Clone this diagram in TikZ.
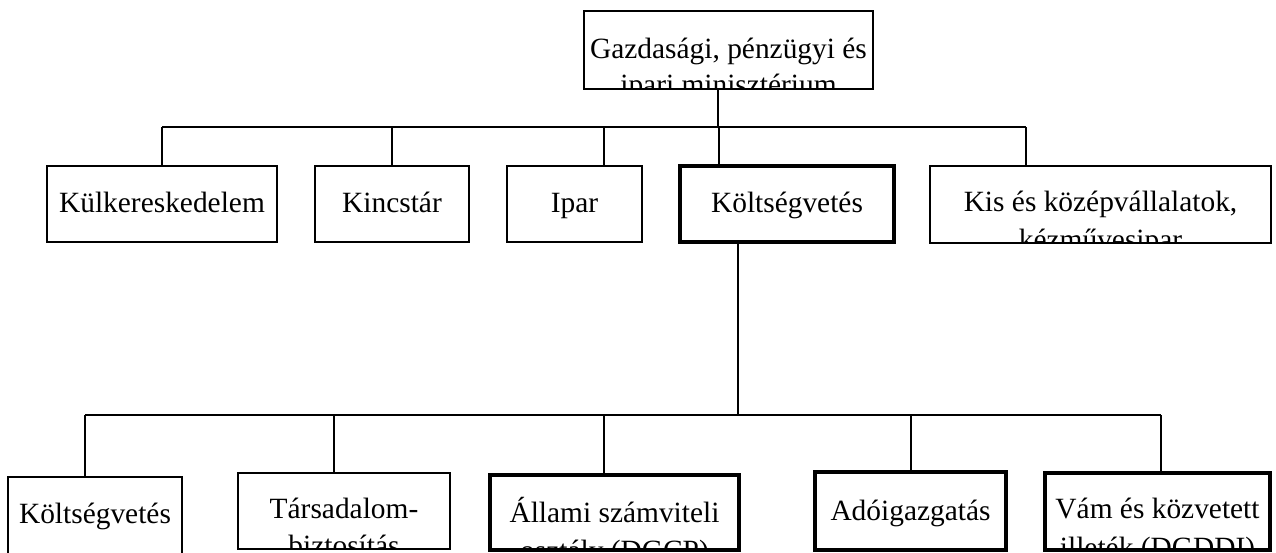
\documentclass[tikz,border=0pt]{standalone}
\usepackage{fontspec}
\setmainfont{Liberation Serif}
\usetikzlibrary{calc}
\begin{document}
\begin{tikzpicture}[x=1pt,y=-1pt,
  box/.style={draw, line width=1.3pt, rectangle, inner sep=0pt, outer sep=0pt, anchor=north west},
  heavy/.style={box, line width=4pt},
  conn/.style={line width=1.4pt},
  lbl/.style={anchor=base, inner sep=0pt, font=\fontsize{29.4}{36}\selectfont}]
\useasboundingbox (0,0) rectangle (1276,552);

% ministry
\node[box, minimum width=289pt, minimum height=78pt] (min) at (584,11) {};
\begin{scope}
  \clip (min.north west) rectangle (min.south east);
  \node[lbl] (minA) at ($(min.north)+(0,47)$) {Gazdasági, pénzügyi és};
  \node[lbl] (minB) at ($(min.north)+(0,83)$) {ipari minisztérium};
\end{scope}

% first level
\node[box, minimum width=230pt, minimum height=76pt] (kulk) at (47,166) {};
\node[lbl] (kulkA) at ($(kulk.north)+(0,46)$) {Külkereskedelem};

\node[box, minimum width=154pt, minimum height=76pt] (kincs) at (315,166) {};
\node[lbl] (kincsA) at ($(kincs.north)+(0,46)$) {Kincstár};

\node[box, minimum width=135pt, minimum height=76pt] (ipar) at (507,166) {};
\node[lbl] (iparA) at ($(ipar.north)+(0,46)$) {Ipar};

\node[heavy, minimum width=214pt, minimum height=76pt] (kolt) at (680,166) {};
\node[lbl] (koltA) at ($(kolt.north)+(0,46)$) {Költségvetés};

\node[box, minimum width=341pt, minimum height=77pt] (kis) at (930,166) {};
\begin{scope}
  \clip (kis.north west) rectangle (kis.south east);
  \node[lbl] (kisA) at ($(kis.north)+(0,45)$) {Kis és középvállalatok,};
  \node[lbl] (kisB) at ($(kis.north)+(0,83)$) {kézművesipar};
\end{scope}

% second level
\node[box, minimum width=174pt, minimum height=85pt] (bud) at (8,477) {};
\node[lbl] (budA) at ($(bud.north)+(0,46)$) {Költségvetés};

\node[box, minimum width=212pt, minimum height=76pt] (tars) at (238,473) {};
\begin{scope}
  \clip (tars.north west) rectangle (tars.south east);
  \node[lbl] (tarsA) at ($(tars.north)+(0,45)$) {Társadalom-};
  \node[lbl] (tarsB) at ($(tars.north)+(0,82)$) {biztosítás};
\end{scope}

\node[heavy, minimum width=249pt, minimum height=75pt] (all) at (490,475) {};
\begin{scope}
  \clip (all.north west) rectangle (all.south east);
  \node[lbl] (allA) at ($(all.north)+(0,47)$) {Állami számviteli};
  \node[lbl] (allB) at ($(all.north)+(0,85)$) {osztály (DGCP)};
\end{scope}

\node[heavy, minimum width=191pt, minimum height=78pt] (ado) at (815,472) {};
\node[lbl] (adoA) at ($(ado.north)+(0,48)$) {Adóigazgatás};

\node[heavy, minimum width=225pt, minimum height=77pt] (vam) at (1045,473) {};
\begin{scope}
  \clip (vam.north west) rectangle (vam.south east);
  \node[lbl] (vamA) at ($(vam.north)+(0,45)$) {Vám és közvetett};
  \node[lbl] (vamB) at ($(vam.north)+(0,84)$) {illeték (DGDDI)};
\end{scope}

% upper connectors
\coordinate (ut) at (718,127);
\coordinate (u1) at (162,127);
\coordinate (u2) at (392,127);
\coordinate (u3) at (604,127);
\coordinate (u4) at (719,127);
\coordinate (u5) at (1026,127);
\draw[conn] (min.south -| ut) -- (ut);
\draw[conn] (u1) -- (u5);
\draw[conn] (u1) -- (u1 |- kulk.north);
\draw[conn] (u2) -- (u2 |- kincs.north);
\draw[conn] (u3) -- (u3 |- ipar.north);
\draw[conn] (u4) -- (u4 |- kolt.north);
\draw[conn] (u5) -- (u5 |- kis.north);

% lower connectors
\coordinate (lt) at (738,415);
\coordinate (l1) at (85,415);
\coordinate (l2) at (334,415);
\coordinate (l3) at (604,415);
\coordinate (l4) at (911,415);
\coordinate (l5) at (1161,415);
\draw[conn] (kolt.south -| lt) -- (lt);
\draw[conn] (l1) -- (l5);
\draw[conn] (l1) -- (l1 |- bud.north);
\draw[conn] (l2) -- (l2 |- tars.north);
\draw[conn] (l3) -- (l3 |- all.north);
\draw[conn] (l4) -- (l4 |- ado.north);
\draw[conn] (l5) -- (l5 |- vam.north);
\end{tikzpicture}
\end{document}
